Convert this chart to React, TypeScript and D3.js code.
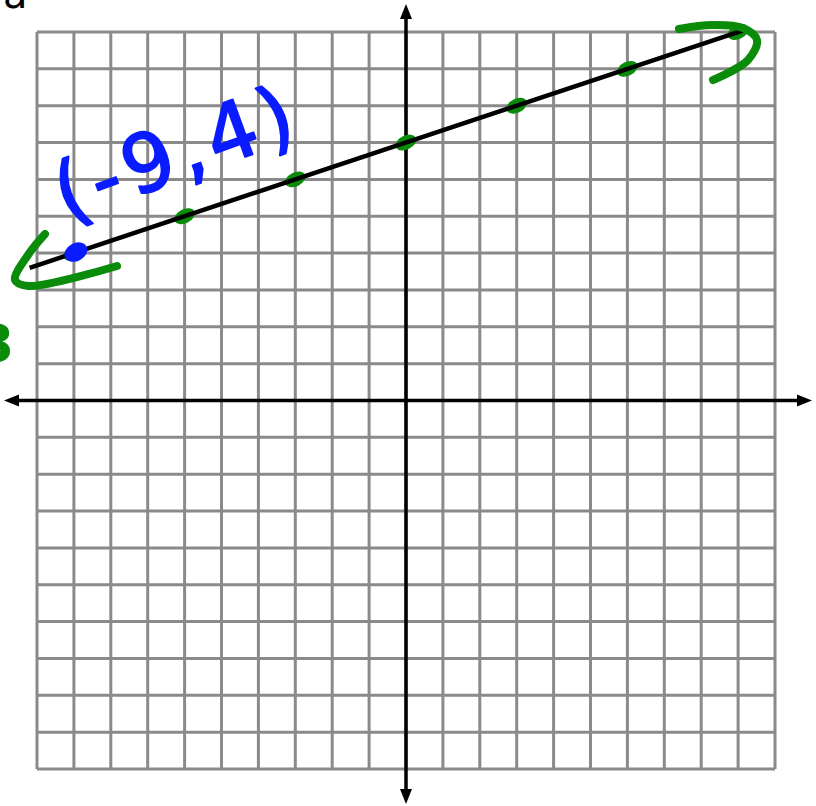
import React from "react";
import * as d3 from "d3";

// Graph paper range and ticks
const gridTicks: number[] = d3.range(-10, 11);
// Plotted points of y = x/3 + 7
const pointX: number[] = [-9, -6, -3, 0, 3, 6, 9];
const pointY: number[] = [4, 5, 6, 7, 8, 9, 10];
const slope = 1 / 3;
const intercept = 7;
// Extent of the drawn line (data units)
const lineExtent: number[] = [-10.2, 9.2];
const pointLabel = "(-9,4)";
const labelPoint = { x: -9, y: 4 };

const W = 816;
const H = 806;

export default function App() {
  const x = d3.scaleLinear().domain([-10, 10]).range([37, 775]);
  const y = d3.scaleLinear().domain([-10, 10]).range([769, 32]);
  const ox = x(0);
  const oy = y(0);

  const line = d3
    .line<number>()
    .x((d) => x(d))
    .y((d) => y(slope * d + intercept));

  const angle = (Math.atan2(y(1) - y(0), x(3) - x(0)) * 180) / Math.PI;

  const green = "#0a8c0a";
  const blue = "#0a1cff";

  const curve = d3.line<[number, number]>().curve(d3.curveCatmullRom.alpha(0.5));

  // Hand-drawn arrow strokes at both ends of the line
  const leftArrow: [number, number][] = [
    [45, 234],
    [28, 255],
    [15, 280],
    [28, 286],
    [117, 266],
  ];
  const rightArrow: [number, number][] = [
    [679, 29],
    [712, 25],
    [743, 28],
    [757, 40],
    [748, 60],
    [713, 80],
  ];

  return (
    <svg width={W} height={H} style={{ position: "absolute", left: 0, top: 0, background: "#fff" }}>
      <rect width={W} height={H} fill="#fff" />
      {/* grid */}
      <g stroke="#8a8a8a" strokeWidth={3}>
        {gridTicks.map((t) => (
          <line key={"v" + t} x1={x(t)} x2={x(t)} y1={y(-10)} y2={y(10)} />
        ))}
        {gridTicks.map((t) => (
          <line key={"h" + t} x1={x(-10)} x2={x(10)} y1={y(t)} y2={y(t)} />
        ))}
      </g>
      {/* axes */}
      <g stroke="#000" strokeWidth={3.5}>
        <line x1={10} x2={802} y1={oy} y2={oy} />
        <line x1={ox} x2={ox} y1={12} y2={796} />
      </g>
      <g fill="#000">
        <path d={`M${ox},4 L${ox - 6},19 L${ox + 6},19 Z`} />
        <path d={`M${ox},804 L${ox - 6},789 L${ox + 6},789 Z`} />
        <path d={`M4,${oy} L19,${oy - 6} L19,${oy + 6} Z`} />
        <path d={`M812,${oy} L797,${oy - 6} L797,${oy + 6} Z`} />
      </g>
      {/* plotted points */}
      <g fill={green}>
        {pointX.map((px, i) => (
          <ellipse
            key={px}
            cx={x(px)}
            cy={y(pointY[i])}
            rx={11}
            ry={7}
            transform={`rotate(${angle - 8},${x(px)},${y(pointY[i])})`}
          />
        ))}
      </g>
      {/* line */}
      <path d={line(lineExtent) || ""} stroke="#000" strokeWidth={4.5} fill="none" />
      {/* arrows */}
      <g stroke={green} strokeWidth={8} fill="none" strokeLinecap="round" strokeLinejoin="round">
        <path d={curve(leftArrow) || ""} />
        <path d={curve(rightArrow) || ""} />
      </g>
      {/* highlighted point and its label */}
      <ellipse
        cx={x(labelPoint.x) + 2}
        cy={y(labelPoint.y) - 1}
        rx={12}
        ry={9}
        fill={blue}
        transform={`rotate(${angle - 10},${x(labelPoint.x) + 2},${y(labelPoint.y) - 1})`}
      />
      <text
        x={0}
        y={0}
        transform={`translate(66,222) rotate(-20)`}
        fill={blue}
        stroke={blue}
        strokeWidth={2}
        strokeLinejoin="round"
        fontFamily="DejaVu Sans"
        fontSize={80}
        letterSpacing={6}
      >
        {pointLabel}
      </text>
      {/* cut-off marks at the edges */}
      <text x={3} y={8} fontFamily="DejaVu Sans" fontSize={40} fill="#000">
        a
      </text>
      <text x={-22} y={362} fontFamily="DejaVu Sans" fontSize={52} fontWeight="bold" fill={green}>
        3
      </text>
    </svg>
  );
}
